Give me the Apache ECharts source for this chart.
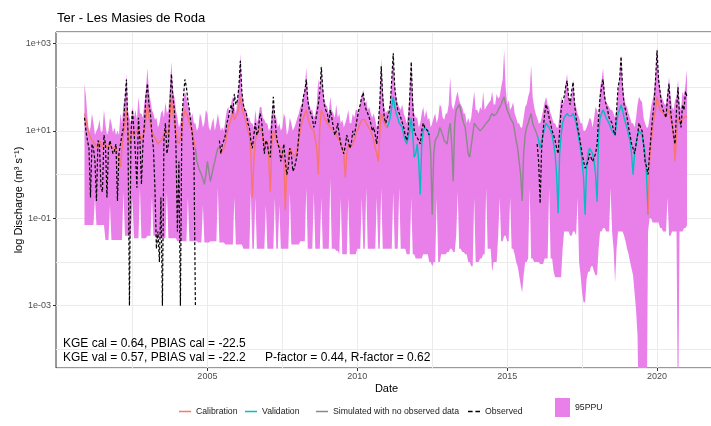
<!DOCTYPE html>
<html><head><meta charset="utf-8">
<script src="https://cdn.jsdelivr.net/npm/echarts@6/dist/echarts.min.js"></script>
<style>html,body{margin:0;padding:0;background:#fff}#c{width:711px;height:426px}</style>
</head><body><div id="c"></div>
<script>
// ---- data (decimal years, discharge m3/s), one row per year ----
const dates = [2000.90,2000.95,
2001.00,2001.05,2001.10,2001.15,2001.20,2001.25,2001.30,2001.35,2001.40,2001.45,2001.50,2001.55,2001.60,2001.65,2001.70,2001.75,2001.80,2001.85,2001.90,2001.95,
2002.00,2002.05,2002.10,2002.15,2002.20,2002.25,2002.30,2002.35,2002.40,2002.45,2002.50,2002.55,2002.60,2002.65,2002.70,2002.75,2002.80,2002.85,2002.90,2002.95,
2003.00,2003.05,2003.10,2003.15,2003.20,2003.25,2003.30,2003.35,2003.40,2003.45,2003.50,2003.55,2003.60,2003.65,2003.70,2003.75,2003.80,2003.85,2003.90,2003.95,
2004.00,2004.05,2004.10,2004.15,2004.20,2004.25,2004.30,2004.35,2004.40,2004.45,2004.50,2004.55,2004.60,2004.65,2004.70,2004.75,2004.80,2004.85,2004.90,2004.95,
2005.00,2005.05,2005.10,2005.15,2005.20,2005.25,2005.30,2005.35,2005.40,2005.45,2005.50,2005.55,2005.60,2005.65,2005.70,2005.75,2005.80,2005.85,2005.90,2005.95,
2006.00,2006.05,2006.10,2006.15,2006.20,2006.25,2006.30,2006.35,2006.40,2006.45,2006.50,2006.55,2006.60,2006.65,2006.70,2006.75,2006.80,2006.85,2006.90,2006.95,
2007.00,2007.05,2007.10,2007.15,2007.20,2007.25,2007.30,2007.35,2007.40,2007.45,2007.50,2007.55,2007.60,2007.65,2007.70,2007.75,2007.80,2007.85,2007.90,2007.95,
2008.00,2008.05,2008.10,2008.15,2008.20,2008.25,2008.30,2008.35,2008.40,2008.45,2008.50,2008.55,2008.60,2008.65,2008.70,2008.75,2008.80,2008.85,2008.90,2008.95,
2009.00,2009.05,2009.10,2009.15,2009.20,2009.25,2009.30,2009.35,2009.40,2009.45,2009.50,2009.55,2009.60,2009.65,2009.70,2009.75,2009.80,2009.85,2009.90,2009.95,
2010.00,2010.05,2010.10,2010.15,2010.20,2010.25,2010.30,2010.35,2010.40,2010.45,2010.50,2010.55,2010.60,2010.65,2010.70,2010.75,2010.80,2010.85,2010.90,2010.95,
2011.00,2011.05,2011.10,2011.15,2011.20,2011.25,2011.30,2011.35,2011.40,2011.45,2011.50,2011.55,2011.60,2011.65,2011.70,2011.75,2011.80,2011.85,2011.90,2011.95,
2012.00,2012.05,2012.10,2012.15,2012.20,2012.25,2012.30,2012.35,2012.40,2012.45,2012.50,2012.55,2012.60,2012.65,2012.70,2012.75,2012.80,2012.85,2012.90,2012.95,
2013.00,2013.05,2013.10,2013.15,2013.20,2013.25,2013.30,2013.35,2013.40,2013.45,2013.50,2013.55,2013.60,2013.65,2013.70,2013.75,2013.80,2013.85,2013.90,2013.95,
2014.00,2014.05,2014.10,2014.15,2014.20,2014.25,2014.30,2014.35,2014.40,2014.45,2014.50,2014.55,2014.60,2014.65,2014.70,2014.75,2014.80,2014.85,2014.90,2014.95,
2015.00,2015.05,2015.10,2015.15,2015.20,2015.25,2015.30,2015.35,2015.40,2015.45,2015.50,2015.55,2015.60,2015.65,2015.70,2015.75,2015.80,2015.85,2015.90,2015.95,
2016.00,2016.05,2016.10,2016.15,2016.20,2016.25,2016.30,2016.35,2016.40,2016.45,2016.50,2016.55,2016.60,2016.65,2016.70,2016.75,2016.80,2016.85,2016.90,2016.95,
2017.00,2017.05,2017.10,2017.15,2017.20,2017.25,2017.30,2017.35,2017.40,2017.45,2017.50,2017.55,2017.60,2017.65,2017.70,2017.75,2017.80,2017.85,2017.90,2017.95,
2018.00,2018.05,2018.10,2018.15,2018.20,2018.25,2018.30,2018.35,2018.40,2018.45,2018.50,2018.55,2018.60,2018.65,2018.70,2018.75,2018.80,2018.85,2018.90,2018.95,
2019.00,2019.05,2019.10,2019.15,2019.20,2019.25,2019.30,2019.35,2019.40,2019.45,2019.50,2019.55,2019.60,2019.65,2019.70,2019.75,2019.80,2019.85,2019.90,2019.95,
2020.00,2020.05,2020.10,2020.15,2020.20,2020.25,2020.30,2020.35,2020.40,2020.45,2020.50,2020.55,2020.60,2020.65,2020.70,2020.75,2020.80,2020.85,2020.90,2020.95,
2021.00];

const ppuUpper = [120,60,
20,9,12,25,15,8,10,12,18,9,10,30,14,8,10,20,15,9,12,8,
10,8,25,15,40,60,200,30,20,15,35,20,30,18,60,25,25,20,45,90,
270,80,50,30,25,18,20,12,15,25,30,20,45,25,30,100,380,80,60,30,
20,12,15,25,50,80,60,40,30,20,25,15,15,10,12,25,20,12,15,30,
25,12,10,15,20,10,15,25,15,10,12,10,18,30,35,20,45,60,35,25,
50,120,600,80,45,30,30,20,20,15,15,12,30,15,20,35,35,20,18,15,
15,10,12,25,45,20,20,12,15,10,12,25,20,8,10,20,15,10,12,15,
20,25,35,40,60,100,280,60,40,30,30,20,25,40,160,60,350,100,50,40,
35,25,60,30,25,20,40,20,25,15,18,12,15,20,30,15,15,25,20,30,
30,25,45,60,90,40,50,30,35,25,20,25,18,12,15,60,450,80,35,25,
30,25,50,120,700,100,60,40,35,30,40,25,20,15,25,80,400,60,25,20,
20,12,15,25,35,20,30,18,20,12,15,20,25,15,20,40,35,20,18,25,
25,40,170,40,30,40,60,80,50,40,35,25,25,15,20,15,20,40,80,30,
30,25,35,30,80,30,35,40,45,50,80,40,40,70,55,60,100,150,700,100,
40,50,30,35,45,25,20,15,15,12,12,20,35,40,60,80,320,60,35,25,
20,15,15,20,30,45,60,40,35,25,20,15,15,12,12,25,60,40,50,120,
200,60,45,60,150,50,35,25,20,15,15,10,10,12,15,20,18,12,20,35,
30,20,100,150,270,80,45,40,35,30,30,25,20,30,80,150,550,120,60,40,
35,25,20,15,15,12,20,40,60,50,45,20,15,12,12,20,35,50,80,200,
830,200,90,60,50,40,40,80,170,60,35,30,50,60,150,40,30,80,60,120,
250];

const ppuLower = [0.07,0.07,
0.07,0.07,0.07,0.07,0.07,0.3,0.07,0.07,0.07,0.07,0.07,0.07,0.032,0.032,0.032,0.2,0.032,0.032,0.032,0.032,
0.032,0.032,0.032,0.032,0.4,0.04,0.04,0.04,0.04,0.04,0.3,0.035,0.035,0.035,0.035,0.5,0.035,0.035,0.035,0.035,
0.04,0.04,0.04,0.3,0.04,0.04,0.035,0.035,0.035,0.035,0.035,0.035,0.035,0.4,0.035,0.035,0.035,0.035,0.035,0.035,
0.03,0.03,0.03,0.03,0.03,0.03,0.03,0.3,0.03,0.03,0.03,0.03,0.03,0.03,0.028,0.028,0.028,0.2,0.028,0.028,
0.028,0.028,0.03,0.03,0.03,0.03,0.03,0.5,0.028,0.028,0.028,0.028,0.025,0.025,0.025,0.025,0.025,0.025,0.3,0.025,
0.025,0.025,0.025,0.025,0.02,0.02,0.02,0.02,0.02,0.4,0.02,0.02,0.3,0.02,0.02,0.02,0.02,0.02,0.02,0.2,
0.02,0.02,0.02,0.02,0.02,0.3,0.02,0.02,0.2,0.02,0.02,0.02,0.02,0.02,0.02,0.4,0.025,0.025,0.025,0.025,
0.025,0.025,0.03,0.03,0.03,0.03,0.5,0.02,0.02,0.02,0.02,0.4,0.02,0.02,0.02,0.02,0.3,0.02,0.02,0.02,
0.02,0.02,0.8,0.02,0.02,0.02,0.018,0.018,0.015,0.3,0.015,0.015,0.015,0.015,0.3,0.015,0.015,0.015,0.015,0.015,
0.02,0.02,0.02,0.3,0.02,0.02,0.5,0.02,0.02,0.02,0.02,0.02,0.02,0.3,0.02,0.02,0.5,0.02,0.02,0.02,
0.02,0.02,0.02,0.02,0.4,0.02,0.02,0.02,0.5,0.02,0.02,0.02,0.02,0.015,0.015,0.015,0.3,0.015,0.015,0.012,
0.012,0.012,0.012,0.012,0.015,0.015,0.015,0.015,0.01,0.01,0.008,0.01,0.01,0.3,0.01,0.01,0.015,0.015,0.015,0.015,
0.017,0.017,0.02,0.02,0.017,0.017,0.04,0.4,0.02,0.02,0.017,0.017,0.015,0.015,0.01,0.01,0.008,0.008,0.3,0.01,
0.01,0.01,0.012,0.012,0.015,0.015,0.5,0.02,0.02,0.02,0.006,0.01,0.01,0.01,0.04,0.3,0.03,0.03,0.04,0.04,
0.03,0.03,0.3,0.02,0.02,0.015,0.01,0.008,0.005,0.003,0.002,0.005,0.01,0.01,0.012,0.5,0.012,0.012,0.01,0.01,
0.01,0.01,0.009,0.009,0.009,0.012,0.012,0.012,0.5,0.012,0.012,0.006,0.0045,0.0045,0.0045,0.0045,0.0045,0.02,0.05,0.05,
0.05,0.05,0.04,0.04,0.05,0.05,0.04,0.3,0.01,0.005,0.002,0.0012,0.0012,0.004,0.006,0.006,0.008,0.008,0.006,0.005,
0.005,0.02,0.05,0.05,0.06,0.06,0.05,0.05,0.05,0.5,0.05,0.02,0.0034,0.02,0.05,0.05,0.05,0.05,0.04,0.03,
0.02,0.015,0.01,0.007,0.005,0.002,0.0008,0.0002,0.000001,0.000001,0.000001,0.000001,0.000001,0.000001,0.05,0.1,0.1,0.08,0.08,0.08,
0.08,0.08,0.06,0.06,0.05,0.05,0.05,0.3,0.04,0.04,0.05,0.05,0.05,0.05,0.000001,0.05,0.05,0.05,0.06,0.06,
0.07];

const simulated = [25,18,
12,9,7,6,6,5,5,4,6,5,4,6,5,4,4,5,5,4,4,4,
3,2,1.5,4,8,15,30,10,5,7,10,8,8,10,12,8,6,8,10,20,
40,20,15,10,8,7,6,5,5,6,7,8,10,9,8,20,60,25,15,10,
6,5,5,10,20,30,25,20,15,12,10,6,4,2,1.5,1.2,1,0.8,0.6,1,
2,1.2,0.7,1,1.5,2,3,4,4,3,3,4,5,8,12,15,20,25,18,20,
25,35,60,35,25,20,15,10,8,3,0.3,2,6,8,8,12,10,7,5,5,
6,2,0.4,5,10,8,6,5,5,4,3,2,0.15,1.5,3,4,4,3,2.5,3,
4,6,10,15,20,25,30,20,15,12,12,10,10,4,1,12,30,25,20,18,
15,14,12,11,10,9,8,7,6,5,5,3,0.85,3,5,4,4,5,6,8,
10,12,15,18,20,18,15,13,12,10,8,6,4,3,2,8,25,20,15,13,
12,15,20,35,60,35,25,20,15,14,12,8,6,5,5,10,20,8,2.5,3,
5,2,0.35,5,10,12,12,10,8,3,0.12,3,6,7,8,12,10,8,6,6,
5,10,15,5,0.7,15,30,35,40,30,20,15,12,6,3,2.5,2.4,8,15,14,
12,11,10,11,12,13,15,16,18,22,25,22,20,25,30,35,40,50,60,40,
30,25,20,18,15,10,6,4,2,1,0.25,3,8,12,15,20,25,15,12,10,
8,6,4,6,8,12,15,14,12,10,8,5,3,1,0.13,3,8,15,20,22,
25,22,20,22,25,20,15,10,6,4,2,0.8,0.12,1.5,3,4,4,3,2,1,
0.24,8,20,25,30,25,20,18,15,12,10,9,8,15,25,30,40,30,20,15,
12,8,6,3,1,3,5,8,10,9,8,5,3,1,0.12,2,5,10,20,30,
60,40,30,28,25,22,20,25,30,20,15,8,2,8,20,18,15,18,20,22,
20];

const observed = [20,10,
6,4,0.3,5,4,2,0.25,6,5,0.5,0.4,8,5,0.3,4,6,6,3,3.5,5,
0.25,3,5,8,12,50,150,10,0.001,8,30,10,3,0.5,20,6,0.6,5,15,60,
120,40,25,8,4,0.5,0.02,0.05,0.01,0.3,0.001,6,15,3,5,40,200,60,30,5,
0.05,2,0.001,20,60,150,100,50,30,15,8,3,0.001,null,null,null,null,null,null,null,
null,null,null,null,null,null,null,null,6,3,5,6,8,15,20,30,40,25,70,40,
50,100,400,80,40,30,25,15,12,6,4,8,15,8,10,25,20,8,3,6,
5,3,2.5,15,60,20,8,5,4,2,3,5,2,1,1.5,4,3,1.2,1.4,2,
3,8,20,30,60,80,150,50,30,25,20,12,15,25,40,80,290,90,40,30,
25,15,30,20,12,8,10,15,8,5,5,3,4.5,8,6,4,5,10,8,12,
20,30,40,60,75,40,30,25,20,15,10,12,8,5,5,40,300,60,20,15,
20,25,40,150,600,100,50,30,25,20,20,12,8,6,10,60,380,40,10,8,
8,6,5,10,15,12,12,10,8,null,null,null,null,null,null,null,null,null,null,null,
null,null,null,null,null,null,null,null,null,null,null,null,null,null,null,null,null,null,null,null,
null,null,null,null,null,null,null,null,null,null,null,null,null,null,null,null,null,null,null,null,
null,null,null,null,null,null,null,null,null,null,null,null,null,null,null,null,null,null,null,null,
5,2,0.22,4,10,25,40,30,20,15,10,8,6,4,3,10,30,50,60,100,
140,60,40,80,130,40,20,12,8,5,3,2,1.4,1.5,2,3,3,2,2,3,
5,20,60,100,150,60,40,30,20,18,15,10,8,30,100,150,500,100,40,30,
20,12,8,5,4,3,3,8,15,12,10,5,2,1.5,1,3,8,20,40,150,
700,150,80,40,30,25,20,60,120,30,15,8,5,30,100,20,12,40,30,80,
60];

const periodStart = [2000.9, 2004.6, 2005.4, 2011.0, 2012.4, 2016.0, 2019.7];
const periodEnd   = [2004.6, 2005.4, 2011.0, 2012.4, 2016.0, 2019.7, 2021.0];
const periodType  = ['Calibration', 'Simulated with no observed data', 'Calibration', 'Validation',
                     'Simulated with no observed data', 'Validation', 'Calibration'];

const xLabelTicks = [2005, 2010, 2015, 2020];
const xGridTicks = [2002.5, 2005, 2007.5, 2010, 2012.5, 2015, 2017.5, 2020];
const yLabelTicks = [0.001, 0.1, 10, 1000];

const titleText = 'Ter - Les Masies de Roda';
const statsCal = 'KGE cal = 0.64, PBIAS cal = -22.5';
const statsVal = 'KGE val = 0.57, PBIAS val = -22.2';
const statsFactor = 'P-factor = 0.44, R-factor = 0.62';

// ---- chart ----
const FONT = '"Liberation Sans", Arial, Helvetica, sans-serif';
const PINK = '#E97FE9';
const lineColors = {'Calibration': '#F8766D', 'Validation': '#00BFC4', 'Simulated with no observed data': '#8A8A8A'};
const X_MIN = 1999.95, X_MAX = 2022.0;
const Y_MIN = 3.75e-5, Y_MAX = 1830;

const series = [];
series.push({
  name: '95PPU', type: 'custom', z: 1, clip: true, silent: true,
  itemStyle: {color: PINK},
  data: dates.map((d, i) => [d, ppuLower[i], ppuUpper[i]]),
  encode: {x: 0, y: [1, 2]},
  renderItem: function (params, api) {
    if (params.dataIndex !== 0) return null;
    const top = dates.map((d, i) => api.coord([d, ppuUpper[i]]));
    const bottom = dates.map((d, i) => api.coord([d, ppuLower[i]])).reverse();
    return {type: 'polygon', shape: {points: top.concat(bottom)}, style: {fill: PINK}};
  }
});
periodStart.forEach((s, k) => {
  const e = periodEnd[k];
  const pts = [];
  dates.forEach((d, i) => { if (d >= s - 1e-6 && d <= e + 1e-6) pts.push([d, simulated[i]]); });
  const c = lineColors[periodType[k]];
  series.push({
    name: periodType[k], type: 'line', symbol: 'none', z: 3, data: pts,
    lineStyle: {color: c, width: 1.4}, itemStyle: {color: c}
  });
});
series.push({
  name: 'Observed', type: 'line', symbol: 'none', z: 4, connectNulls: false,
  data: dates.map((d, i) => [d, observed[i]]),
  lineStyle: {color: '#000', width: 1.2, type: [3, 2]}, itemStyle: {color: '#000'}
});

function logLabel(v) {
  const e = Math.log10(v);
  const r = Math.round(e);
  if (Math.abs(e - r) > 1e-6 || r % 2 === 0) return '';
  return '1e' + (r >= 0 ? '+' : '-') + String(Math.abs(r)).padStart(2, '0');
}

const legendText = {fontSize: 8.7, color: '#1a1a1a', fontFamily: FONT};
function lineLegend(name, left, icon) {
  return {data: [{name: name, icon: icon}], left: left, top: 407, padding: 0, itemWidth: 12, itemHeight: 1.5,
          symbolKeepAspect: false, selectedMode: false, textStyle: legendText};
}
const LINE_ICON = 'rect';
const DASH_ICON = 'path://M0,0h5v2h-5z M8,0h5v2h-5z';

const option = {
  animation: false,
  backgroundColor: '#fff',
  title: {text: titleText, left: 57, top: 12, padding: 0,
          textStyle: {fontSize: 13, fontWeight: 'normal', color: '#000', fontFamily: FONT}},
  grid: {left: 56, top: 32, width: 661, height: 336, show: true, borderColor: '#333', borderWidth: 1,
         containLabel: false, outerBoundsMode: 'none'},
  xAxis: [
    {type: 'value', min: X_MIN, max: X_MAX,
     axisLine: {show: false}, axisTick: {show: false, customValues: xGridTicks},
     axisLabel: {show: false}, splitLine: {show: true, lineStyle: {color: '#EBEBEB', width: 1}}},
    {type: 'value', min: X_MIN, max: X_MAX, position: 'bottom',
     axisLine: {show: false},
     axisTick: {show: true, length: 3, customValues: xLabelTicks, lineStyle: {color: '#333'}},
     axisLabel: {customValues: xLabelTicks, fontSize: 9, color: '#4D4D4D', margin: 4, fontFamily: FONT,
                 formatter: v => String(v)},
     splitLine: {show: false},
     name: 'Date', nameLocation: 'middle', nameGap: 15, nameMoveOverlap: false,
     nameTextStyle: {fontSize: 11, color: '#000', fontFamily: FONT}}
  ],
  yAxis: [
    {type: 'log', logBase: 10, min: Y_MIN, max: Y_MAX,
     axisLine: {show: false}, axisTick: {show: false},
     axisLabel: {fontSize: 9, color: '#4D4D4D', margin: 5, formatter: logLabel, fontFamily: FONT},
     splitLine: {show: true, lineStyle: {color: '#EBEBEB', width: 1}},
     name: 'log Discharge (m³ s⁻¹)', nameLocation: 'middle', nameRotate: 90, nameGap: 32, nameMoveOverlap: false,
     nameTextStyle: {fontSize: 11, color: '#000', fontFamily: FONT}},
    {type: 'log', logBase: 10, min: Y_MIN, max: Y_MAX, position: 'left',
     axisLine: {show: false}, axisLabel: {show: false}, splitLine: {show: false},
     axisTick: {show: true, length: 3, customValues: yLabelTicks, lineStyle: {color: '#333'}}}
  ],
  legend: [
    lineLegend('Calibration', 179, LINE_ICON),
    lineLegend('Validation', 245, LINE_ICON),
    lineLegend('Simulated with no observed data', 316, LINE_ICON),
    lineLegend('Observed', 468, DASH_ICON),
    {data: [{name: '95PPU', icon: 'rect'}], left: 555, top: 398, padding: 0, itemWidth: 15, itemHeight: 19,
     selectedMode: false, textStyle: legendText}
  ],
  graphic: [
    {type: 'text', left: 63, top: 338, z: 10, style: {text: statsCal, font: '12px ' + FONT, fill: '#000'}},
    {type: 'text', left: 63, top: 352, z: 10, style: {text: statsVal, font: '12px ' + FONT, fill: '#000'}},
    {type: 'text', left: 265, top: 352, z: 10, style: {text: statsFactor, font: '12px ' + FONT, fill: '#000'}}
  ],
  series: series
};

const chart = echarts.init(document.getElementById('c'), null, {renderer: 'canvas'});
chart.setOption(option);
</script>
</body></html>
